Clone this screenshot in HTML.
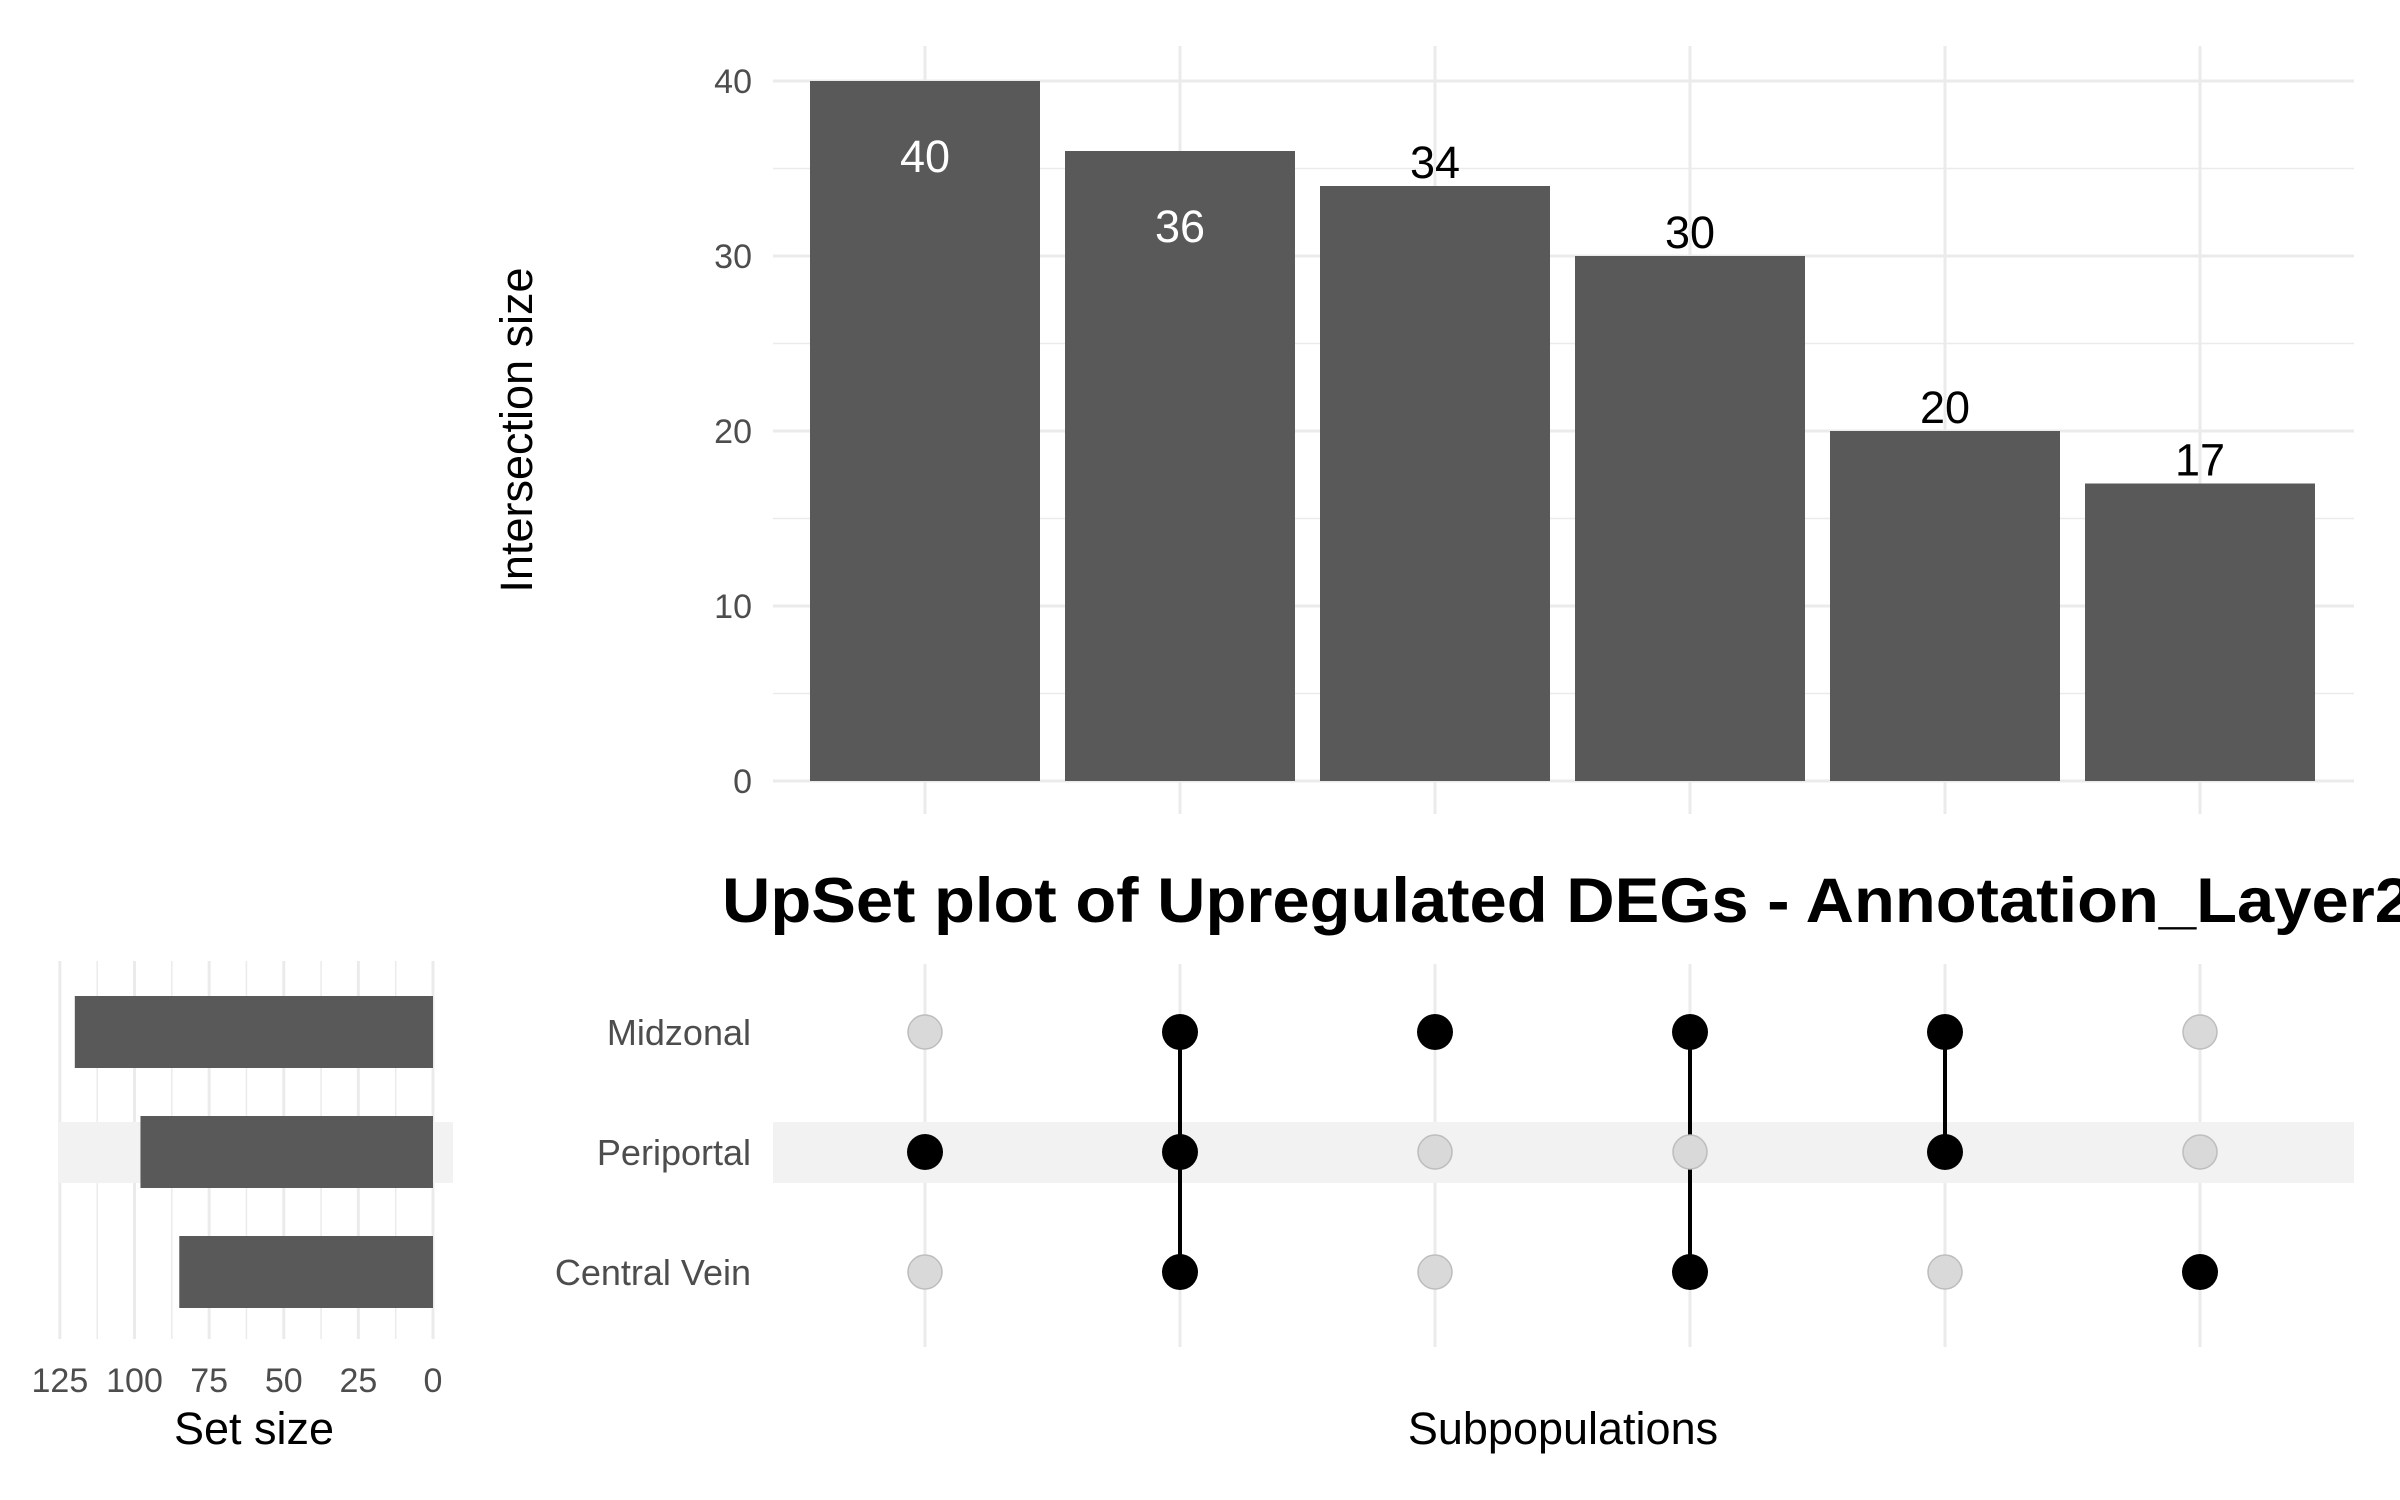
<!DOCTYPE html>
<html><head><meta charset="utf-8"><style>
html,body{margin:0;padding:0;background:#fff;width:2400px;height:1500px;overflow:hidden}
svg{display:block;font-family:"Liberation Sans",sans-serif}
</style></head><body>
<svg id="chart" width="2400" height="1500" viewBox="0 0 2400 1500" xmlns="http://www.w3.org/2000/svg"></svg>
<script>
const intersectionSizes = [40, 36, 34, 30, 20, 17];
const setNames = ["Midzonal", "Periportal", "Central Vein"];
const setSizes = [120, 98, 85];
const membership = [
  [0,1,0],
  [1,1,1],
  [1,0,0],
  [1,0,1],
  [1,1,0],
  [0,0,1]
];
const yTicks = [0,10,20,30,40];
const setTicks = [125,100,75,50,25,0];

const NS = "http://www.w3.org/2000/svg";
const svg = document.getElementById('chart');
function mk(tag, attrs, parent, text){
  const e = document.createElementNS(NS, tag);
  for (const k in attrs) e.setAttribute(k, attrs[k]);
  if (text !== undefined) e.textContent = text;
  (parent||svg).appendChild(e);
  return e;
}
const xc = i => 925 + i*255;
const barW = 230;
const yTop = v => 781 - v*17.5;
const rowY = j => 1032 + j*120;
const setX = v => 433 - v*2.985;

const gTop = mk('g', {});


for (let v=0; v<=40; v+=5){
  mk('line',{x1:773,x2:2354,y1:yTop(v),y2:yTop(v),stroke:'#ebebeb','stroke-width':v%10===0?3:1.5},gTop);
}
intersectionSizes.forEach((d,i)=>{
  mk('line',{x1:xc(i),x2:xc(i),y1:46,y2:814,stroke:'#ebebeb','stroke-width':3},gTop);
});
yTicks.forEach(t=>{
  const e = mk('text',{x:752,y:yTop(t)+12,'text-anchor':'end','font-size':34,fill:'#4d4d4d'},svg,String(t));
  
  
});
intersectionSizes.forEach((d,i)=>{
  const r = mk('rect',{x:xc(i)-barW/2,y:yTop(d),width:barW,height:yTop(0)-yTop(d),fill:'#595959'});
  
  
  const inside = d>=36;
  const t = mk('text',{x:xc(i),y:inside?yTop(d)+91:yTop(d)-8,'text-anchor':'middle','font-size':45,fill:inside?'#fff':'#000'},svg,String(d));
  
  
});
const yt = mk('text',{x:0,y:0,transform:'translate(532,430) rotate(-90)','text-anchor':'middle','font-size':45,fill:'#000'},svg,'Intersection size');



const title = mk('text',{x:722,y:922,'font-size':63,'font-weight':'bold',fill:'#000',textLength:1690,lengthAdjust:'spacingAndGlyphs'},svg,'UpSet plot of Upregulated DEGs - Annotation_Layer2');



for (let v=0; v<=125; v+=12.5){
  mk('line',{x1:setX(v),x2:setX(v),y1:961,y2:1339,stroke:'#ebebeb','stroke-width':v%25===0?3:1.5});
}
const b1 = mk('rect',{x:58,y:1122,width:395,height:61,fill:'#f2f2f2'});


intersectionSizes.forEach((d,i)=>{
  mk('line',{x1:xc(i),x2:xc(i),y1:964,y2:1347,stroke:'#ebebeb','stroke-width':3});
});
const b2 = mk('rect',{x:773,y:1122,width:1581,height:61,fill:'#f2f2f2'});


setSizes.forEach((s,j)=>{
  const r = mk('rect',{x:setX(s),y:rowY(j)-36,width:setX(0)-setX(s),height:72,fill:'#595959'});
  
  
});
setTicks.forEach(t=>{
  const e = mk('text',{x:setX(t),y:1392,'text-anchor':'middle','font-size':34,fill:'#4d4d4d'},svg,String(t));
  
  
});
const sx = mk('text',{x:254,y:1444,'text-anchor':'middle','font-size':45,fill:'#000'},svg,'Set size');


setNames.forEach((n,j)=>{
  const e = mk('text',{x:751,y:rowY(j)+13,'text-anchor':'end','font-size':36,fill:'#4d4d4d'},svg,n);
  
  
});
membership.forEach((m,i)=>{
  const idx = m.map((v,j)=>v?j:-1).filter(j=>j>=0);
  if (idx.length>1){
    const l = mk('line',{x1:xc(i),x2:xc(i),y1:rowY(Math.min(...idx)),y2:rowY(Math.max(...idx)),stroke:'#000','stroke-width':4});
    
    
  }
  m.forEach((v,j)=>{
    const c = mk('circle',{cx:xc(i),cy:rowY(j),r:v?18:17,fill:v?'#000':'#d9d9d9',stroke:v?'#000':'#bdbdbd','stroke-width':v?0:1.5});
    
    
  });
});
const xt = mk('text',{x:1563,y:1444,'text-anchor':'middle','font-size':45,fill:'#000'},svg,'Subpopulations');


</script>
</body></html>
